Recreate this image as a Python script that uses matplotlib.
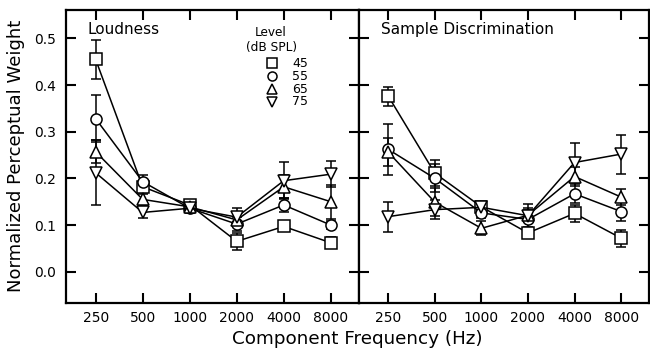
import matplotlib
matplotlib.use("Agg")
import matplotlib.pyplot as plt
import numpy as np

freqs = ["250", "500", "1000", "2000", "4000", "8000"]
levels = ["45", "55", "65", "75"]
markers = ["s", "o", "^", "v"]

# Loudness panel
loud_45 = [0.455, 0.182, 0.143, 0.065, 0.097, 0.062]
loud_55 = [0.328, 0.193, 0.136, 0.102, 0.143, 0.100]
loud_65 = [0.257, 0.155, 0.139, 0.111, 0.182, 0.150]
loud_75 = [0.212, 0.127, 0.136, 0.117, 0.195, 0.209]
loud_45_err = [0.042, 0.010, 0.008, 0.018, 0.008, 0.012]
loud_55_err = [0.050, 0.015, 0.008, 0.015, 0.015, 0.008]
loud_65_err = [0.025, 0.012, 0.008, 0.012, 0.025, 0.036]
loud_75_err = [0.070, 0.012, 0.010, 0.020, 0.040, 0.028]

# Sample discrimination panel
samp_45 = [0.376, 0.211, 0.139, 0.083, 0.125, 0.072]
samp_55 = [0.262, 0.200, 0.126, 0.112, 0.167, 0.129]
samp_65 = [0.256, 0.149, 0.093, 0.121, 0.204, 0.160]
samp_75 = [0.118, 0.133, 0.138, 0.120, 0.234, 0.252]
samp_45_err = [0.020, 0.028, 0.010, 0.008, 0.018, 0.018]
samp_55_err = [0.055, 0.030, 0.010, 0.020, 0.020, 0.020]
samp_65_err = [0.030, 0.030, 0.015, 0.015, 0.020, 0.018]
samp_75_err = [0.032, 0.020, 0.010, 0.025, 0.042, 0.042]

yticks = [0.0, 0.1, 0.2, 0.3, 0.4, 0.5]

plt.rcParams["font.family"] = ["DejaVu Sans"]

fig = plt.figure(figsize=(6.5, 3.48), dpi=100)
W, H = 650, 348
def rect(l, t, r, b):
    return [l / W, 1 - b / H, (r - l) / W, (b - t) / H]

ax1 = fig.add_axes(rect(66, 10, 359, 302.7))
ax2 = fig.add_axes(rect(359, 10, 649, 302.7))

xi = np.arange(len(freqs))
panels = [
    (ax1, [loud_45, loud_55, loud_65, loud_75],
     [loud_45_err, loud_55_err, loud_65_err, loud_75_err], "Loudness", 0.072),
    (ax2, [samp_45, samp_55, samp_65, samp_75],
     [samp_45_err, samp_55_err, samp_65_err, samp_75_err], "Sample Discrimination", 0.076),
]

msize = {"s": 8, "o": 8, "^": 9, "v": 9}

for ax, series, errs, title, tx in panels:
    for vals, err, m, lev in zip(series, errs, markers, levels):
        ax.errorbar(xi, vals, yerr=err, color="black", lw=1.1,
                    elinewidth=1.1, capsize=3.6, capthick=1.1,
                    marker=m, markersize=msize[m],
                    mfc="white", mec="black", mew=1.1, zorder=3)
    ax.set_xlim(-0.63, 5.6)
    ax.set_ylim(-0.0664, 0.5608)
    ax.set_xticks(xi)
    ax.set_xticklabels(freqs, fontsize=10)
    ax.set_yticks(yticks)
    ax.tick_params(direction="in", length=7.5, width=1.5, top=True, right=True,
                   pad=6)
    for s in ax.spines.values():
        s.set_linewidth(1.6)
    ax.text(tx, 0.932, title, transform=ax.transAxes,
            fontsize=11, ha="left", va="center")

ax1.set_yticklabels([f"{v:.1f}" for v in yticks], fontsize=10)
ax1.tick_params(axis="y", pad=7)
ax2.set_yticklabels([])
ax1.set_ylabel("Normalized Perceptual Weight", fontsize=13, labelpad=7)

fig.text((66 + 649) / 2 / W, 1 - 339 / H, "Component Frequency (Hz)",
         fontsize=13.2, ha="center", va="center")

# Legend (key drawn in axes-fraction coordinates)
ax1.text(0.70, 0.922, "Level", transform=ax1.transAxes, fontsize=8.7,
         ha="center", va="center")
ax1.text(0.70, 0.871, "(dB SPL)", transform=ax1.transAxes, fontsize=8.7,
         ha="center", va="center")
leg_y = [0.818, 0.773, 0.729, 0.687]
for m, lev, yy in zip(markers, levels, leg_y):
    ax1.plot([0.703], [yy], transform=ax1.transAxes, marker=m,
             markersize=6.5 if m in "so" else 7, mfc="white", mec="black",
             mew=1.1, ls="none", clip_on=False)
    ax1.text(0.771, yy, lev, transform=ax1.transAxes, fontsize=9,
             ha="left", va="center")

fig.savefig("out.png", dpi=100)
